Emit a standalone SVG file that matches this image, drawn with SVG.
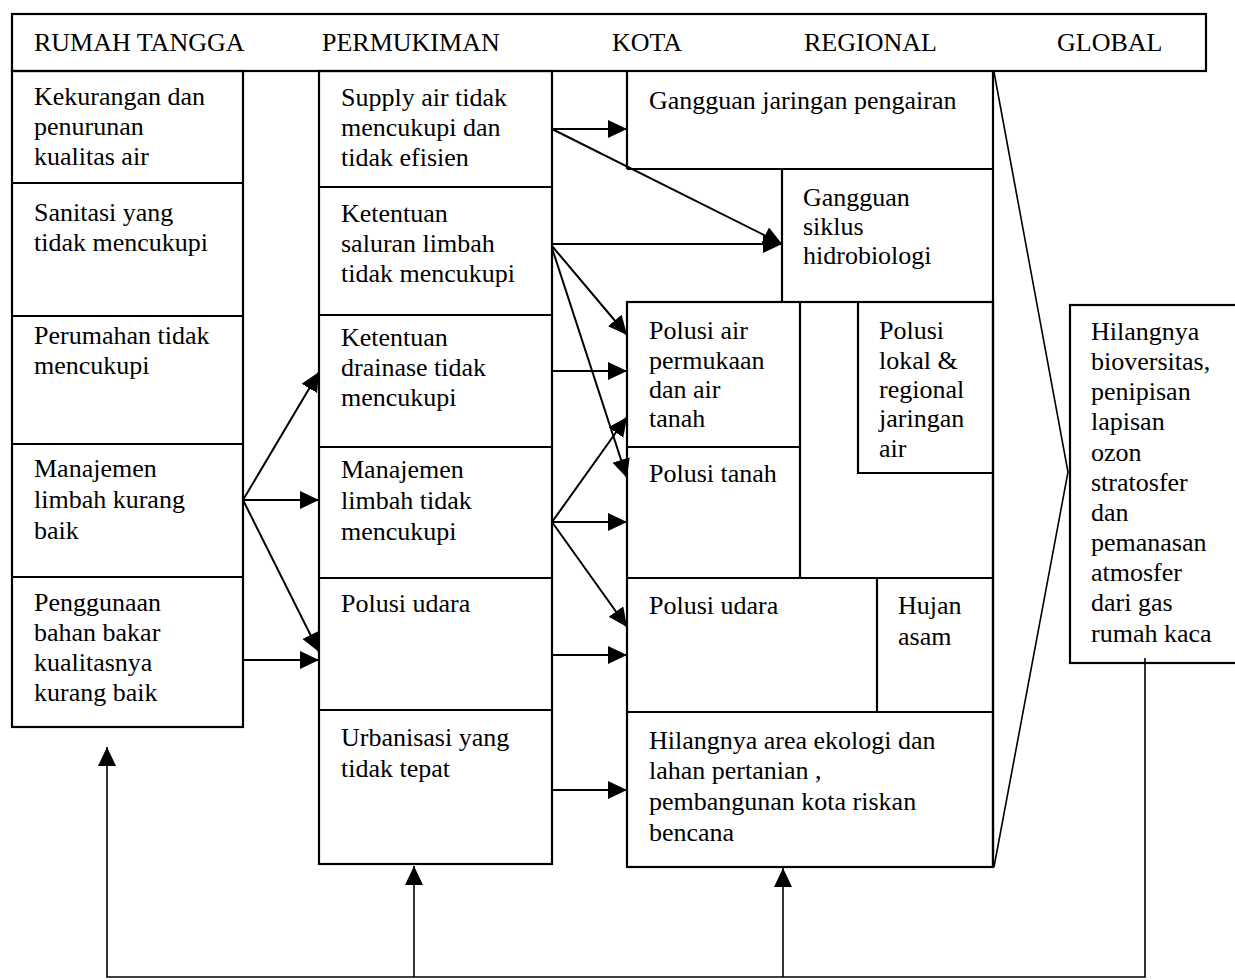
<svg xmlns="http://www.w3.org/2000/svg" width="1235" height="980" viewBox="0 0 1235 980" font-family="'Liberation Serif', 'Times New Roman', serif">
<defs>
<marker id="ah" markerUnits="userSpaceOnUse" markerWidth="20" markerHeight="19" refX="19" refY="9" orient="auto">
<path d="M0,0 L19,9 L0,18 z" fill="#000"/>
</marker>
<style>
text{font-family:"Liberation Serif","Times New Roman",serif;font-size:26px;fill:#000}
.b{fill:none;stroke:#000;stroke-width:2.2}
.l{stroke:#000;stroke-width:2.2;fill:none}
.a{stroke:#000;stroke-width:2;fill:none;marker-end:url(#ah)}
.t{stroke:#000;stroke-width:1.6;fill:none}
</style>
</defs>
<rect width="1235" height="980" fill="#fff"/>
<g id="header">
<rect class="b" x="12" y="14" width="1194" height="57"/>
<text x="34" y="51">RUMAH TANGGA</text>
<text x="322" y="51">PERMUKIMAN</text>
<text x="612" y="51">KOTA</text>
<text x="804" y="51">REGIONAL</text>
<text x="1057" y="51">GLOBAL</text>
</g>
<g id="rumah-tangga">
<rect class="b" x="12" y="71" width="231" height="656"/>
<line class="l" x1="12" y1="183" x2="243" y2="183"/>
<line class="l" x1="12" y1="316" x2="243" y2="316"/>
<line class="l" x1="12" y1="444" x2="243" y2="444"/>
<line class="l" x1="12" y1="577" x2="243" y2="577"/>
<text x="34" y="105">Kekurangan dan</text>
<text x="34" y="135">penurunan</text>
<text x="34" y="165">kualitas air</text>
<text x="34" y="221">Sanitasi yang</text>
<text x="34" y="251">tidak mencukupi</text>
<text x="34" y="344">Perumahan tidak</text>
<text x="34" y="374">mencukupi</text>
<text x="34" y="477">Manajemen</text>
<text x="34" y="508">limbah kurang</text>
<text x="34" y="539">baik</text>
<text x="34" y="611">Penggunaan</text>
<text x="34" y="641">bahan bakar</text>
<text x="34" y="671">kualitasnya</text>
<text x="34" y="701">kurang baik</text>
</g>
<g id="permukiman">
<rect class="b" x="319" y="71" width="233" height="793"/>
<line class="l" x1="319" y1="187" x2="552" y2="187"/>
<line class="l" x1="319" y1="315" x2="552" y2="315"/>
<line class="l" x1="319" y1="447" x2="552" y2="447"/>
<line class="l" x1="319" y1="578" x2="552" y2="578"/>
<line class="l" x1="319" y1="710" x2="552" y2="710"/>
<text x="341" y="106">Supply air tidak</text>
<text x="341" y="136">mencukupi dan</text>
<text x="341" y="166">tidak efisien</text>
<text x="341" y="222">Ketentuan</text>
<text x="341" y="252">saluran limbah</text>
<text x="341" y="282">tidak mencukupi</text>
<text x="341" y="346">Ketentuan</text>
<text x="341" y="376">drainase tidak</text>
<text x="341" y="406">mencukupi</text>
<text x="341" y="478">Manajemen</text>
<text x="341" y="509">limbah tidak</text>
<text x="341" y="540">mencukupi</text>
<text x="341" y="612">Polusi udara</text>
<text x="341" y="746">Urbanisasi yang</text>
<text x="341" y="777">tidak tepat</text>
</g>
<g id="kota-regional">
<polyline class="l" points="627,169 627,71"/>
<line class="l" x1="627" y1="169" x2="993" y2="169"/>
<line class="l" x1="782" y1="169" x2="782" y2="302"/>
<line class="l" x1="993" y1="71" x2="993" y2="867"/>
<rect class="b" x="627" y="302" width="366" height="565"/>
<line class="l" x1="800" y1="302" x2="800" y2="578"/>
<line class="l" x1="627" y1="447" x2="800" y2="447"/>
<polyline class="l" points="858,302 858,473 993,473"/>
<line class="l" x1="627" y1="578" x2="993" y2="578"/>
<line class="l" x1="877" y1="578" x2="877" y2="712"/>
<line class="l" x1="627" y1="712" x2="993" y2="712"/>
<text x="649" y="109">Gangguan jaringan pengairan</text>
<text x="803" y="206">Gangguan</text>
<text x="803" y="235">siklus</text>
<text x="803" y="264">hidrobiologi</text>
<text x="649" y="339">Polusi air</text>
<text x="649" y="369">permukaan</text>
<text x="649" y="398">dan air</text>
<text x="649" y="427">tanah</text>
<text x="879" y="339">Polusi</text>
<text x="879" y="369">lokal &amp;</text>
<text x="879" y="398">regional</text>
<text x="879" y="427">jaringan</text>
<text x="879" y="457">air</text>
<text x="649" y="482">Polusi tanah</text>
<text x="649" y="614">Polusi udara</text>
<text x="898" y="614">Hujan</text>
<text x="898" y="645">asam</text>
<text x="649" y="749">Hilangnya area ekologi dan</text>
<text x="649" y="779">lahan pertanian ,</text>
<text x="649" y="810">pembangunan kota riskan</text>
<text x="649" y="841">bencana</text>
</g>
<g id="global">
<rect class="b" x="1070" y="305" width="175" height="358"/>
<text x="1091" y="340">Hilangnya</text>
<text x="1091" y="370">bioversitas,</text>
<text x="1091" y="400">penipisan</text>
<text x="1091" y="430">lapisan</text>
<text x="1091" y="461">ozon</text>
<text x="1091" y="491">stratosfer</text>
<text x="1091" y="521">dan</text>
<text x="1091" y="551">pemanasan</text>
<text x="1091" y="581">atmosfer</text>
<text x="1091" y="611">dari gas</text>
<text x="1091" y="642">rumah kaca</text>
</g>
<g id="connectors">
<polyline class="t" points="994,72 1068,472 994,867"/>
<line class="a" x1="243" y1="500" x2="319" y2="372"/>
<line class="a" x1="243" y1="500" x2="319" y2="500"/>
<line class="a" x1="243" y1="500" x2="319" y2="652"/>
<line class="a" x1="243" y1="660" x2="319" y2="660"/>
<line class="a" x1="552" y1="129" x2="627" y2="129"/>
<line class="a" x1="552" y1="129" x2="782" y2="244"/>
<line class="a" x1="552" y1="244" x2="782" y2="244"/>
<line class="a" x1="552" y1="246" x2="627" y2="335"/>
<line class="a" x1="552" y1="248" x2="627" y2="478"/>
<line class="a" x1="552" y1="371" x2="627" y2="371"/>
<line class="a" x1="552" y1="522" x2="627" y2="417"/>
<line class="a" x1="552" y1="522" x2="627" y2="522"/>
<line class="a" x1="552" y1="522" x2="627" y2="627"/>
<line class="a" x1="552" y1="655" x2="627" y2="655"/>
<line class="a" x1="552" y1="790" x2="627" y2="790"/>
<polyline class="t" points="1145,658 1145,977 107,977 107,747" style="marker-end:url(#ah)"/>
<line class="t" x1="414" y1="977" x2="414" y2="866" style="marker-end:url(#ah)"/>
<line class="t" x1="783" y1="977" x2="783" y2="868" style="marker-end:url(#ah)"/>
</g>
</svg>
